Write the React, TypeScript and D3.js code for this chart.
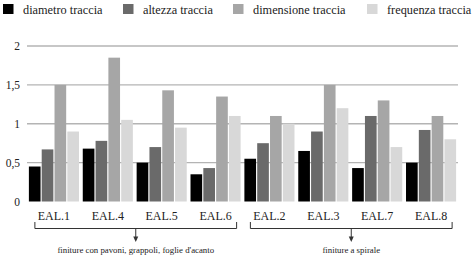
import React from "react";
import * as d3 from "d3";

// categories, in the order they are drawn
const categories = ["EAL.1", "EAL.4", "EAL.5", "EAL.6", "EAL.2", "EAL.3", "EAL.7", "EAL.8"];
const seriesNames = ["diametro traccia", "altezza traccia", "dimensione traccia", "frequenza traccia"];
const seriesColors = ["#000000", "#6a6a6a", "#a6a6a6", "#d8d8d8"];

// one array per series
const diametro = [0.45, 0.68, 0.5, 0.35, 0.55, 0.65, 0.43, 0.5];
const altezza = [0.67, 0.78, 0.7, 0.43, 0.75, 0.9, 1.1, 0.92];
const dimensione = [1.5, 1.85, 1.43, 1.35, 1.1, 1.5, 1.3, 1.1];
const frequenza = [0.9, 1.05, 0.95, 1.1, 1.0, 1.2, 0.7, 0.8];

const yTicks = [0, 0.5, 1, 1.5, 2];

// groups of categories under a bracket
const groupLabels = ["finiture con pavoni, grappoli, foglie d'acanto", "finiture a spirale"];
const groupMembers = [
  ["EAL.1", "EAL.4", "EAL.5", "EAL.6"],
  ["EAL.2", "EAL.3", "EAL.7", "EAL.8"],
];

const width = 474;
const height = 257;
const font = { fontFamily: '"Liberation Serif"' };
const legendX = [3, 123, 233, 367];

const App = () => {
  const values = [diametro, altezza, dimensione, frequenza];

  const x0 = d3.scaleBand<string>().domain(categories).range([27, 458]).paddingInner(0.07).paddingOuter(0.035);
  const x1 = d3.scaleBand<string>().domain(seriesNames).range([0, x0.bandwidth()]).paddingInner(0.09);
  const y = d3.scaleLinear().domain([0, 2]).range([201.5, 46]);
  const fmt = (d: number) => String(d).replace(".", ",");

  return (
    <svg width={width} height={height} style={{ display: "block", position: "absolute", left: 0, top: 0 }}>
      {/* gridlines */}
      {yTicks
        .filter((t) => t > 0)
        .map((t) => (
          <line key={t} x1={27} x2={458} y1={y(t)} y2={y(t)} stroke="#b4b4b4" strokeWidth={1.3} />
        ))}

      {/* tick labels */}
      {yTicks.map((t) => (
        <text key={t} x={20} y={y(t) + 4} textAnchor="end" fontSize={11.5} fill="#222" style={font}>
          {fmt(t)}
        </text>
      ))}

      {/* bars */}
      {categories.map((c, i) => (
        <g key={c} transform={`translate(${x0(c)},0)`}>
          {seriesNames.map((s, j) => (
            <rect
              key={s}
              x={x1(s)}
              width={x1.bandwidth()}
              y={y(values[j][i])}
              height={y(0) - y(values[j][i])}
              fill={seriesColors[j]}
            />
          ))}
        </g>
      ))}

      {/* category labels */}
      {categories.map((c) => (
        <text key={c} x={x0(c)! + x0.bandwidth() / 2} y={220} textAnchor="middle" fontSize={12} fill="#222" style={font}>
          {c}
        </text>
      ))}

      {/* brackets with arrows and group captions */}
      {groupMembers.map((members, gi) => {
        const left = x0(members[0])! + 6;
        const right = x0(members[members.length - 1])! + x0.bandwidth() - 4;
        const mid = (left + right) / 2;
        return (
          <g key={gi}>
            <path d={`M${left},222V228.5H${right}V222`} fill="none" stroke="#333" strokeWidth={1} />
            <line x1={mid} x2={mid} y1={228.5} y2={238} stroke="#333" strokeWidth={1} />
            <path d={`M${mid - 2.5},236.5L${mid + 2.5},236.5L${mid},242Z`} fill="#333" />
            <text x={mid} y={253} textAnchor="middle" fontSize={8.8} fill="#222" style={font}>
              {groupLabels[gi]}
            </text>
          </g>
        );
      })}

      {/* legend */}
      {seriesNames.map((s, i) => (
        <g key={s} transform={`translate(${legendX[i]},4)`}>
          <rect width={10.5} height={10} fill={seriesColors[i]} />
          <text x={20} y={9.8} fontSize={12.3} fill="#222" style={font}>
            {s}
          </text>
        </g>
      ))}
    </svg>
  );
};

export default App;
